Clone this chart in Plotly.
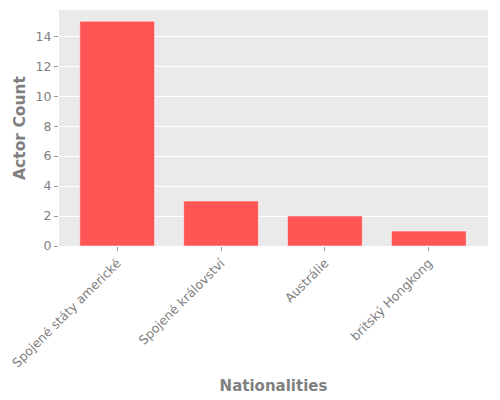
import plotly.graph_objects as go

categories = ["Spojené státy americké", "Spojené království", "Austrálie", "britský Hongkong"]
counts = [15, 3, 2, 1]

fig = go.Figure(go.Bar(
    x=categories, y=counts, width=0.72,
    marker=dict(color="#FF5555", line=dict(color="rgba(255,255,255,0.5)", width=1)),
))
font = "DejaVu Sans"
fig.update_layout(
    width=500, height=400,
    margin=dict(l=51, r=20, t=2, b=162, autoexpand=False),
    paper_bgcolor="white", plot_bgcolor="#EAEAEA",
    font=dict(family=font, color="#808080", size=12.5),
    showlegend=False,
)
fig.update_xaxes(
    range=[-0.56, 3.57], tickangle=-45, ticks="outside", ticklen=4, tickcolor="#999999",
    showgrid=False, zeroline=False, automargin=False,
    title=dict(text="<b>Nationalities</b>", font=dict(size=15, color="#808080"), standoff=11),
)
fig.update_yaxes(
    range=[0, 15.75], dtick=2, ticks="outside", ticklen=4, tickcolor="#999999",
    gridcolor="white", gridwidth=1, zeroline=False, automargin=False,
    title=dict(text="<b>Actor Count</b>", font=dict(size=15.5, color="#808080"), standoff=6),
)
fig.write_html("out.html")
